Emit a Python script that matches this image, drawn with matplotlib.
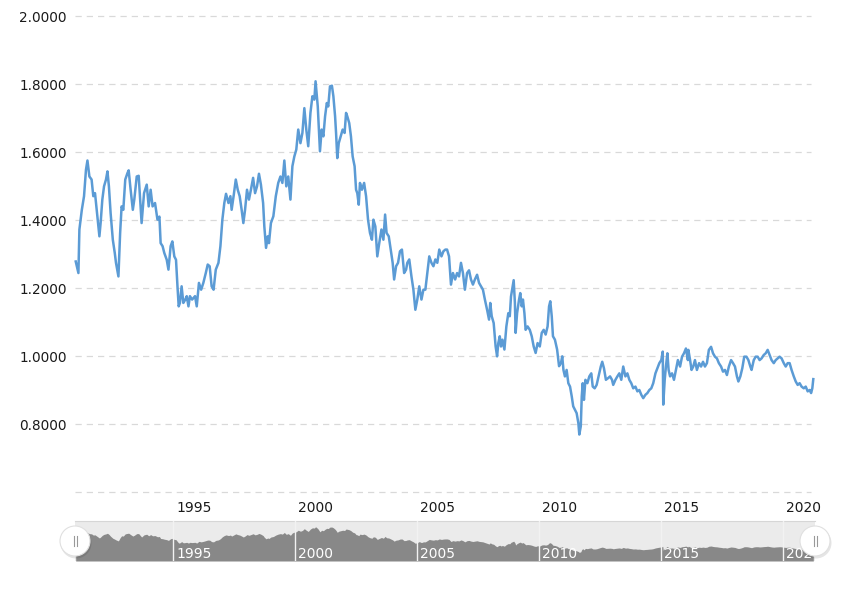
import matplotlib
matplotlib.use("Agg")
import matplotlib.pyplot as plt
from matplotlib.patches import Circle, Rectangle
import numpy as np

# USD/CHF-style series (decimal year, rate)
years = [
    1991.00, 1991.11, 1991.15, 1991.25, 1991.34, 1991.42, 1991.48, 1991.56, 1991.65, 1991.72,
    1991.79, 1991.86, 1991.97, 1992.02, 1992.09, 1992.16, 1992.24, 1992.30, 1992.36, 1992.43,
    1992.52, 1992.60, 1992.65, 1992.75, 1992.82, 1992.88, 1992.95, 1993.03, 1993.12, 1993.17,
    1993.25, 1993.34, 1993.40, 1993.50, 1993.58, 1993.64, 1993.70, 1993.80, 1993.91, 1993.99,
    1994.07, 1994.15, 1994.25, 1994.35, 1994.43, 1994.48, 1994.56, 1994.63, 1994.73, 1994.80,
    1994.89, 1994.96, 1995.04, 1995.11, 1995.17, 1995.22, 1995.27, 1995.34, 1995.41, 1995.49,
    1995.55, 1995.62, 1995.68, 1995.77, 1995.89, 1995.96, 1996.05, 1996.14, 1996.23, 1996.33,
    1996.41, 1996.49, 1996.57, 1996.65, 1996.74, 1996.85, 1996.93, 1997.01, 1997.09, 1997.16,
    1997.26, 1997.34, 1997.39, 1997.47, 1997.56, 1997.64, 1997.72, 1997.80, 1997.87, 1997.94,
    1998.02, 1998.10, 1998.18, 1998.27, 1998.35, 1998.43, 1998.51, 1998.59, 1998.68, 1998.73,
    1998.80, 1998.87, 1998.92, 1999.00, 1999.10, 1999.20, 1999.30, 1999.39, 1999.47, 1999.55,
    1999.63, 1999.71, 1999.80, 1999.88, 1999.96, 2000.04, 2000.12, 2000.21, 2000.29, 2000.37,
    2000.45, 2000.53, 2000.62, 2000.70, 2000.78, 2000.83, 2000.92, 2001.01, 2001.08, 2001.15,
    2001.22, 2001.29, 2001.35, 2001.42, 2001.50, 2001.56, 2001.63, 2001.67, 2001.72, 2001.78,
    2001.86, 2001.94, 2002.02, 2002.08, 2002.13, 2002.21, 2002.28, 2002.35, 2002.43, 2002.49,
    2002.54, 2002.60, 2002.65, 2002.73, 2002.82, 2002.90, 2002.98, 2003.06, 2003.14, 2003.20,
    2003.28, 2003.36, 2003.44, 2003.53, 2003.61, 2003.68, 2003.74, 2003.83, 2003.91, 2003.99,
    2004.05, 2004.13, 2004.21, 2004.29, 2004.37, 2004.46, 2004.54, 2004.59, 2004.67, 2004.76,
    2004.84, 2004.92, 2005.00, 2005.08, 2005.17, 2005.25, 2005.33, 2005.41, 2005.49, 2005.58,
    2005.66, 2005.74, 2005.82, 2005.90, 2005.99, 2006.07, 2006.15, 2006.22, 2006.30, 2006.38,
    2006.46, 2006.55, 2006.63, 2006.71, 2006.79, 2006.87, 2006.95, 2007.04, 2007.12, 2007.20,
    2007.28, 2007.36, 2007.45, 2007.53, 2007.61, 2007.69, 2007.77, 2007.86, 2007.94, 2007.99,
    2008.05, 2008.13, 2008.21, 2008.27, 2008.32, 2008.38, 2008.43, 2008.49, 2008.57, 2008.65,
    2008.73, 2008.79, 2008.84, 2008.91, 2008.95, 2009.00, 2009.03, 2009.09, 2009.17, 2009.22,
    2009.28, 2009.33, 2009.39, 2009.44, 2009.52, 2009.61, 2009.69, 2009.77, 2009.85, 2009.93,
    2010.02, 2010.10, 2010.18, 2010.26, 2010.34, 2010.40, 2010.45, 2010.51, 2010.56, 2010.64,
    2010.73, 2010.81, 2010.89, 2010.94, 2010.99, 2011.05, 2011.12, 2011.19, 2011.26, 2011.33,
    2011.39, 2011.46, 2011.53, 2011.60, 2011.64, 2011.70, 2011.74, 2011.78, 2011.83, 2011.89,
    2011.97, 2012.05, 2012.13, 2012.19, 2012.27, 2012.35, 2012.43, 2012.52, 2012.58, 2012.65,
    2012.73, 2012.82, 2012.90, 2012.98, 2013.03, 2013.12, 2013.20, 2013.28, 2013.36, 2013.44,
    2013.53, 2013.61, 2013.69, 2013.77, 2013.85, 2013.94, 2014.02, 2014.10, 2014.18, 2014.26,
    2014.35, 2014.43, 2014.51, 2014.59, 2014.67, 2014.76, 2014.84, 2014.92, 2015.00, 2015.06,
    2015.08, 2015.14, 2015.19, 2015.25, 2015.30, 2015.36, 2015.44, 2015.52, 2015.60, 2015.68,
    2015.77, 2015.85, 2015.93, 2016.01, 2016.09, 2016.11, 2016.18, 2016.24, 2016.31, 2016.38,
    2016.46, 2016.55, 2016.63, 2016.71, 2016.79, 2016.87, 2016.95, 2017.04, 2017.12, 2017.20,
    2017.28, 2017.36, 2017.45, 2017.53, 2017.61, 2017.69, 2017.77, 2017.86, 2017.94, 2018.02,
    2018.10, 2018.16, 2018.24, 2018.32, 2018.40, 2018.49, 2018.57, 2018.65, 2018.70, 2018.79,
    2018.87, 2018.95, 2019.03, 2019.11, 2019.20, 2019.28, 2019.36, 2019.44, 2019.52, 2019.61,
    2019.69, 2019.77, 2019.85, 2019.93, 2020.02, 2020.10, 2020.18, 2020.26, 2020.34, 2020.43,
    2020.51, 2020.59, 2020.67, 2020.75, 2020.84, 2020.92, 2021.00, 2021.08, 2021.14, 2021.19,
    2021.23,
]
rates = [
    1.278, 1.244, 1.372, 1.430, 1.470, 1.548, 1.575, 1.528, 1.519, 1.470,
    1.479, 1.430, 1.352, 1.391, 1.460, 1.499, 1.519, 1.543, 1.499, 1.420,
    1.342, 1.303, 1.274, 1.234, 1.362, 1.440, 1.430, 1.519, 1.538, 1.546,
    1.489, 1.430, 1.460, 1.528, 1.530, 1.460, 1.391, 1.479, 1.504, 1.440,
    1.489, 1.440, 1.450, 1.401, 1.410, 1.332, 1.323, 1.303, 1.283, 1.254,
    1.323, 1.337, 1.293, 1.283, 1.205, 1.146, 1.156, 1.205, 1.156, 1.166,
    1.176, 1.146, 1.176, 1.166, 1.176, 1.146, 1.215, 1.195, 1.215, 1.244,
    1.269, 1.264, 1.205, 1.195, 1.254, 1.274, 1.323, 1.401, 1.450, 1.477,
    1.450, 1.470, 1.430, 1.470, 1.519, 1.489, 1.470, 1.430, 1.391, 1.430,
    1.489, 1.460, 1.489, 1.524, 1.479, 1.499, 1.536, 1.504, 1.450, 1.381,
    1.318, 1.352, 1.332, 1.391, 1.411, 1.470, 1.509, 1.528, 1.509, 1.575,
    1.499, 1.528, 1.460, 1.558, 1.587, 1.607, 1.666, 1.626, 1.656, 1.729,
    1.666, 1.617, 1.715, 1.764, 1.754, 1.808, 1.734, 1.602, 1.666, 1.646,
    1.705, 1.744, 1.734, 1.793, 1.795, 1.764, 1.705, 1.656, 1.582, 1.626,
    1.646, 1.666, 1.656, 1.715, 1.705, 1.685, 1.646, 1.587, 1.558, 1.489,
    1.479, 1.445, 1.509, 1.489, 1.509, 1.470, 1.401, 1.362, 1.342, 1.401,
    1.381, 1.293, 1.332, 1.372, 1.342, 1.416, 1.362, 1.352, 1.313, 1.274,
    1.225, 1.264, 1.274, 1.308, 1.313, 1.244, 1.254, 1.274, 1.284, 1.234,
    1.195, 1.136, 1.166, 1.205, 1.166, 1.195, 1.195, 1.244, 1.293, 1.274,
    1.264, 1.284, 1.274, 1.313, 1.293, 1.308, 1.313, 1.313, 1.293, 1.210,
    1.244, 1.225, 1.244, 1.234, 1.274, 1.244, 1.195, 1.244, 1.252, 1.225,
    1.210, 1.225, 1.239, 1.215, 1.205, 1.195, 1.166, 1.136, 1.107, 1.156,
    1.117, 1.097, 1.028, 0.999, 1.038, 1.058, 1.028, 1.048, 1.019, 1.087,
    1.126, 1.117, 1.175, 1.205, 1.223, 1.156, 1.068, 1.126, 1.166, 1.185,
    1.146, 1.166, 1.126, 1.077, 1.087, 1.077, 1.058, 1.028, 1.009, 1.038,
    1.028, 1.068, 1.077, 1.063, 1.087, 1.146, 1.161, 1.117, 1.058, 1.048,
    1.019, 0.970, 0.980, 0.999, 0.959, 0.940, 0.959, 0.920, 0.910, 0.881,
    0.852, 0.842, 0.832, 0.803, 0.769, 0.793, 0.881, 0.920, 0.871, 0.930,
    0.920, 0.940, 0.949, 0.910, 0.905, 0.915, 0.940, 0.969, 0.983, 0.964,
    0.930, 0.935, 0.940, 0.930, 0.915, 0.930, 0.940, 0.949, 0.930, 0.969,
    0.940, 0.949, 0.930, 0.920, 0.905, 0.910, 0.896, 0.900, 0.886, 0.876,
    0.886, 0.891, 0.900, 0.905, 0.920, 0.949, 0.964, 0.979, 0.988, 1.013,
    0.857, 0.930, 0.969, 1.008, 0.959, 0.940, 0.949, 0.930, 0.959, 0.988,
    0.969, 0.998, 1.008, 1.022, 0.988, 1.018, 0.988, 0.959, 0.969, 0.988,
    0.959, 0.979, 0.969, 0.983, 0.969, 0.979, 1.018, 1.027, 1.008, 0.998,
    0.993, 0.979, 0.969, 0.954, 0.959, 0.944, 0.969, 0.988, 0.979, 0.969,
    0.940, 0.925, 0.940, 0.964, 0.998, 0.998, 0.988, 0.969, 0.959, 0.988,
    0.998, 0.998, 0.988, 0.993, 1.003, 1.008, 1.018, 1.003, 0.988, 0.979,
    0.988, 0.993, 0.998, 0.993, 0.979, 0.969, 0.979, 0.979, 0.959, 0.940,
    0.925, 0.915, 0.920, 0.910, 0.905, 0.910, 0.896, 0.900, 0.891, 0.905,
    0.932,
]
tick_years = [1995, 2000, 2005, 2010, 2015, 2020]
y_ticks = [0.8, 1.0, 1.2, 1.4, 1.6, 1.8, 2.0]
grid_levels = [0.6, 0.8, 1.0, 1.2, 1.4, 1.6, 1.8, 2.0]

W, H = 863, 596
x_range = (1990.97, 2021.30)

fig = plt.figure(figsize=(W / 100, H / 100), dpi=100)
fig.patch.set_facecolor("white")

# main chart
ax = fig.add_axes([75 / W, 1 - 492 / H, 740 / W, 476 / H])
ax.set_xlim(*x_range)
ax.set_ylim(0.6, 2.0)
for s in ax.spines.values():
    s.set_visible(False)
grid_end = (811 - 75) / 740
for g in grid_levels:
    ax.axhline(g, xmin=0, xmax=grid_end, color="#d9d9d9", lw=0.9,
               dashes=(5, 4), zorder=1, clip_on=False)
ax.plot(years, rates, color="#5b9bd5", lw=1.8, solid_joinstyle="round", zorder=3,
        clip_on=False)
ax.set_yticks(y_ticks)
ax.set_yticklabels(["%.4f" % v for v in y_ticks])
ax.tick_params(axis="y", length=0, pad=6, labelsize=9.8, labelcolor="#1a1a1a")
ax.set_xticks([])
for yr in tick_years:
    ax.annotate(str(yr), xy=(yr, 0), xycoords=ax.get_xaxis_transform(),
                xytext=(3, -16), textcoords="offset pixels", ha="left", va="center",
                fontsize=10, color="#1a1a1a")

# navigator
nav = fig.add_axes([75 / W, 1 - 561 / H, 740 / W, 40 / H])
nav.set_xlim(*x_range)
nav.set_ylim(0.42, 2.04)
nav.set_facecolor("#ebebeb")
for s in nav.spines.values():
    s.set_visible(False)
nav.spines["top"].set_visible(True)
nav.spines["top"].set_color("#d6d6d6")
nav.fill_between(years, rates, 0.42, color="#888888", lw=0, zorder=2)
for yr in tick_years:
    nav.axvline(yr, color="#f2f2f2", lw=1.0, zorder=3)
    nav.annotate(str(yr), xy=(yr, 0), xycoords=nav.get_xaxis_transform(),
                 xytext=(3, 7), textcoords="offset pixels", ha="left", va="center",
                 fontsize=10, color="white", zorder=4)
nav.set_xticks([])
nav.set_yticks([])

# navigator handles
over = fig.add_axes([0, 0, 1, 1])
over.set_xlim(0, W)
over.set_ylim(H, 0)
over.axis("off")
pos = nav.get_position()
hy = H - (pos.y0 + pos.height / 2) * H
for hx in (pos.x0 * W, pos.x1 * W):
    over.add_patch(Circle((hx + 1, hy + 2), 15.5, color="#000000", alpha=0.10, lw=0))
    over.add_patch(Circle((hx, hy), 15, facecolor="white", edgecolor="#e0e0e0", lw=0.8))
    for dx in (-1.5, 1.5):
        over.plot([hx + dx, hx + dx], [hy - 5, hy + 5], color="#999999", lw=0.8)

fig.savefig("out.png", dpi=100)
